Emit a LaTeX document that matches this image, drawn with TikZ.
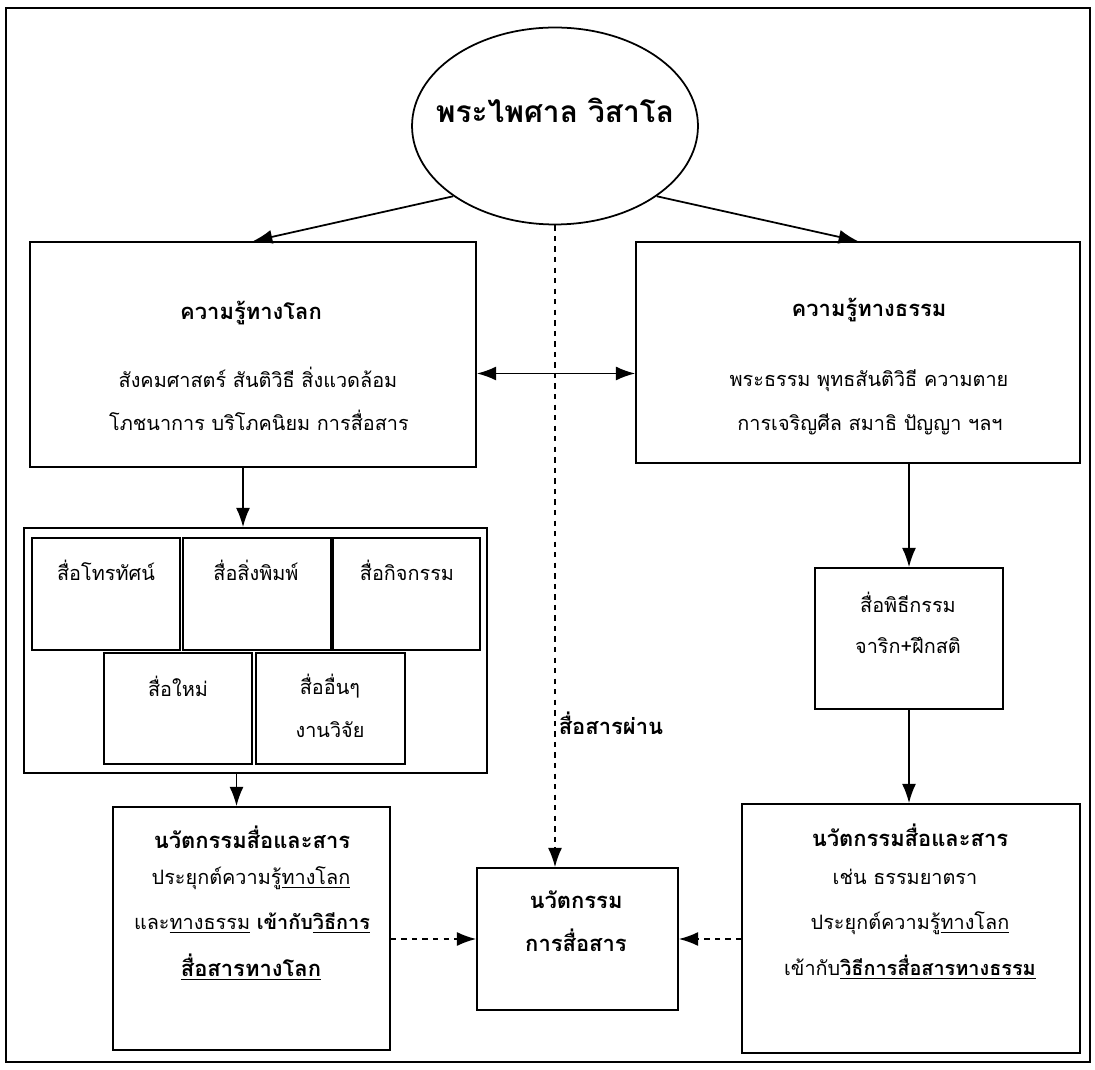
\documentclass[tikz,border=0pt]{standalone}
\usepackage{fontspec}
\setmainfont{Loma}[Script=Thai]
\usetikzlibrary{shapes.geometric,arrows.meta}
\tikzset{
  box/.style={draw,rectangle,line width=1pt,inner sep=0pt},
  arr/.style={line width=1pt,-{Latex[length=11pt,width=8pt]}},
  darr/.style={line width=1pt,{Latex[length=11pt,width=8pt]}-{Latex[length=11pt,width=8pt]}},
  dasharr/.style={line width=0.9pt,dashed,-{Latex[length=11pt,width=8pt]}},
  txt/.style={font=\fontsize{11.3}{13}\selectfont},
  btxt/.style={font=\fontsize{12.5}{14}\selectfont\bfseries},
}
\begin{document}
\begin{tikzpicture}[x=0.02cm,y=-0.02cm]
  \useasboundingbox (0,0) rectangle (1095,1070);
  \draw[line width=1pt] (6,8) rectangle (1090,1062);
  % centre
  \node[box,ellipse,minimum width=5.72cm,minimum height=3.94cm] (monk) at (555,126) {};
  \node[font=\fontsize{17}{20}\selectfont\bfseries] (monkname) at (555,110) {พระไพศาล วิสาโล};
  % two kinds of knowledge
  \node[box,minimum width=8.92cm,minimum height=4.5cm] (world) at (253,354.5) {};
  \node[btxt] (worldhead) at (251,313) {ความรู้ทางโลก};
  \node[txt] (worldl1) at (258,377) {สังคมศาสตร์ สันติวิธี สิ่งแวดล้อม};
  \node[txt] (worldl2) at (259,420) {โภชนาการ บริโภคนิยม การสื่อสาร};
  \node[box,minimum width=8.88cm,minimum height=4.42cm] (dhamma) at (858,352.5) {};
  \node[btxt] (dhammahead) at (869,310) {ความรู้ทางธรรม};
  \node[txt] (dhammal1) at (869,381) {พระธรรม พุทธสันติวิธี ความตาย};
  \node[txt] (dhammal2) at (870,424) {การเจริญศีล สมาธิ ปัญญา ฯลฯ};
  % media
  \node[box,minimum width=9.26cm,minimum height=4.9cm] (media) at (255.5,650.5) {};
  \node[box,minimum width=2.96cm,minimum height=2.24cm] (tv) at (106,594) {};
  \node[box,minimum width=2.96cm,minimum height=2.24cm] (print) at (257,594) {};
  \node[box,minimum width=2.94cm,minimum height=2.24cm] (event) at (406.5,594) {};
  \node[box,minimum width=2.96cm,minimum height=2.22cm] (newm) at (178,708.5) {};
  \node[box,minimum width=2.98cm,minimum height=2.22cm] (other) at (330.5,708.5) {};
  \node[txt] (tvtxt) at (106,570) {สื่อโทรทัศน์};
  \node[txt] (printtxt) at (256,570) {สื่อสิ่งพิมพ์};
  \node[txt] (eventtxt) at (407,570) {สื่อกิจกรรม};
  \node[txt] (newtxt) at (178,686) {สื่อใหม่};
  \node[txt] (othertxt) at (330,686) {สื่ออื่นๆ};
  \node[txt] (researchtxt) at (330,730) {งานวิจัย};
  \node[box,minimum width=3.76cm,minimum height=2.82cm] (ritual) at (909,638.5) {};
  \node[txt] (ritualtxt) at (908,602) {สื่อพิธีกรรม};
  \node[txt] (walktxt) at (908,645) {จาริก+ฝึกสติ};
  \node[btxt] (via) at (611,723) {สื่อสารผ่าน};
  % innovations
  \node[box,minimum width=5.54cm,minimum height=4.86cm] (innoleft) at (251.5,928.5) {};
  \node[btxt] (innolefthead) at (252,837) {นวัตกรรมสื่อและสาร};
  \node[txt] (innoleftl1) at (251,878) {ประยุกต์ความรู้\underline{ทางโลก}};
  \node[txt] (innoleftl2) at (252,923) {และ\underline{ทางธรรม} \textbf{เข้ากับ\underline{วิธีการ}}};
  \node[btxt] (innoleftl3) at (251,967) {\underline{สื่อสารทางโลก}};
  \node[box,minimum width=4.02cm,minimum height=2.84cm] (comm) at (577.5,939) {};
  \node[btxt] (commhead) at (576,900) {นวัตกรรม};
  \node[btxt] (commsub) at (576,940) {การสื่อสาร};
  \node[box,minimum width=6.76cm,minimum height=4.98cm] (innoright) at (911,928.5) {};
  \node[btxt] (innorighthead) at (910,835) {นวัตกรรมสื่อและสาร};
  \node[txt] (innorightl1) at (905,877) {เช่น ธรรมยาตรา};
  \node[txt] (innorightl2) at (910,923) {ประยุกต์ความรู้\underline{ทางโลก}};
  \node[txt] (innorightl3) at (910,967) {เข้ากับ\textbf{\underline{วิธีการสื่อสารทางธรรม}}};
  % connectors
  \draw[arr] (monk.south west) -- (world.north);
  \draw[arr] (monk.south east) -- (dhamma.north);
  \draw[dasharr] (monk.south) -- (monk.south |- comm.north);
  \draw[darr] ([yshift=-0.38cm]world.east) -- ([yshift=-0.38cm]world.east -| dhamma.west);
  \draw[arr] ([xshift=-0.2cm]world.south) -- ([xshift=-0.2cm]world.south |- media.north);
  \draw[arr] ([xshift=-0.38cm]media.south) -- ([xshift=-0.38cm]media.south |- innoleft.north);
  \draw[arr] (ritual.north |- dhamma.south) -- (ritual.north);
  \draw[arr] (ritual.south) -- (ritual.south |- innoright.north);
  \draw[dasharr] (comm.west -| innoleft.east) -- (comm.west);
  \draw[dasharr] (comm.east -| innoright.west) -- (comm.east);
\end{tikzpicture}
\end{document}
